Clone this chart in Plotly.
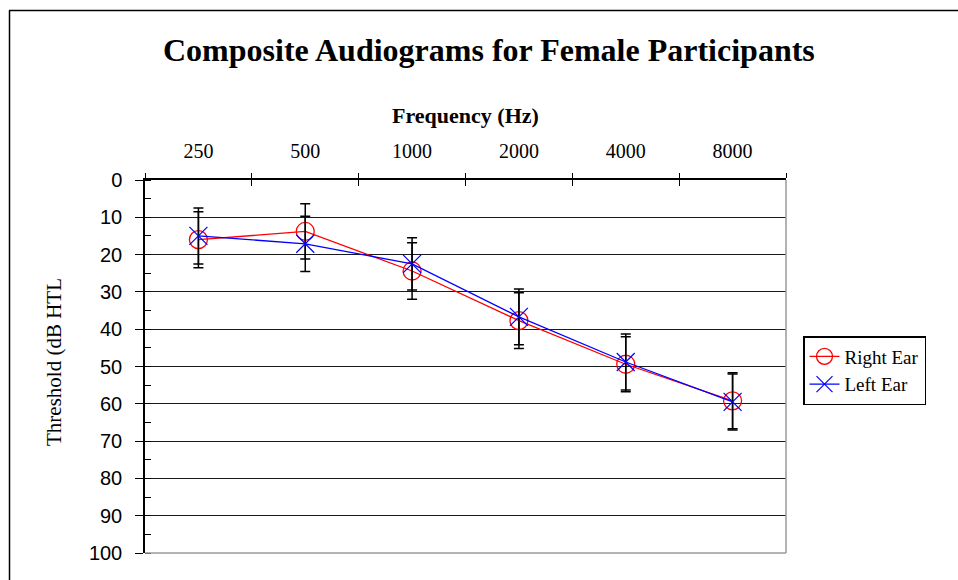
import plotly.graph_objects as go

# Audiogram data: mean hearing threshold (dB HTL) and spread per test frequency
frequencies = ["250", "500", "1000", "2000", "4000", "8000"]
right_ear = [16.0, 13.8, 24.4, 37.7, 49.4, 59.2]
right_err = [7.5, 7.4, 7.6, 7.5, 7.4, 7.5]
left_ear = [15.0, 17.1, 22.5, 36.7, 48.8, 59.5]
left_err = [7.5, 7.4, 7.0, 7.5, 7.5, 7.5]
y_ticks = list(range(0, 101, 10))

W, H = 958, 580
L, R, T, B = 145, 172, 180, 27
PW, PH = W - L - R, H - T - B


def px(x):
    return (x - L) / PW


def py(y):
    return (H - B - y) / PH


SERIF = "Liberation Serif, Times New Roman, serif"
SANS = "Liberation Sans, Arial, sans-serif"

fig = go.Figure()

fig.add_trace(go.Scatter(
    x=frequencies, y=right_ear, name="Right Ear", mode="lines+markers",
    line=dict(color="#ff0000", width=1.3),
    marker=dict(symbol="circle-open", size=18, color="#ff0000",
                line=dict(width=1.3, color="#ff0000")),
    error_y=dict(type="data", array=right_err, visible=True,
                 color="#000000", thickness=1.5, width=5),
))
fig.add_trace(go.Scatter(
    x=frequencies, y=left_ear, name="Left Ear", mode="lines+markers",
    line=dict(color="#0000ff", width=1.3),
    marker=dict(symbol="x-thin-open", size=18, color="#0000ff",
                line=dict(width=1.2, color="#0000ff")),
    error_y=dict(type="data", array=left_err, visible=True,
                 color="#000000", thickness=1.5, width=5),
))

fig.update_layout(
    width=W, height=H,
    margin=dict(l=L, r=R, t=T, b=B, autoexpand=False),
    paper_bgcolor="white", plot_bgcolor="white",
    showlegend=True,
    legend=dict(
        x=px(803), y=py(336), xanchor="left", yanchor="top",
        bordercolor="#000000", borderwidth=1.5, bgcolor="white",
        font=dict(family=SERIF, size=19, color="#000000"),
        tracegroupgap=0, itemwidth=30,
    ),
    xaxis=dict(
        type="category", side="top", range=[-0.5, 5.5],
        categoryorder="array", categoryarray=frequencies,
        tickson="boundaries", ticks="outside", ticklen=5, tickwidth=1.3,
        tickcolor="#000000", ticklabelstandoff=12,
        showline=True, linecolor="#000000", linewidth=1.5,
        showgrid=False, zeroline=False,
        tickfont=dict(family=SERIF, size=20, color="#000000"),
    ),
    xaxis2=dict(
        overlaying="x", side="top", range=[-0.5, 5.5],
        tickmode="array", tickvals=[i - 0.5 for i in range(len(frequencies) + 1)],
        ticks="inside", ticklen=6, tickwidth=1.3, tickcolor="#000000",
        showticklabels=False, showgrid=False, zeroline=False, showline=False,
    ),
    yaxis=dict(
        range=[100, 0], tickmode="array", tickvals=y_ticks,
        ticks="outside", ticklen=8, tickwidth=1.3, tickcolor="#000000",
        ticklabelstandoff=9,
        minor=dict(dtick=5, ticks="inside", ticklen=6, tickwidth=1.2,
                   tickcolor="#000000", showgrid=False),
        showgrid=True, gridcolor="#1a1a1a", gridwidth=1.2,
        showline=True, linecolor="#000000", linewidth=1.5,
        zeroline=False,
        tickfont=dict(family=SANS, size=20, color="#000000"),
    ),
)

# invisible trace so the boundary-tick axis is drawn
fig.add_trace(go.Scatter(x=[-0.5, 5.5], y=[0, 0], xaxis="x2", mode="markers",
                         marker=dict(opacity=0), showlegend=False,
                         hoverinfo="skip"))

shapes = [
    # plot-area border on the bottom and right (grey)
    dict(type="line", xref="paper", yref="paper", x0=0, x1=1, y0=0, y1=0,
         line=dict(color="#9a9a9a", width=1.5), layer="above"),
    dict(type="line", xref="paper", yref="paper", x0=1, x1=1, y0=0, y1=1,
         line=dict(color="#9a9a9a", width=1.5), layer="above"),
    # chart frame
    dict(type="line", xref="paper", yref="paper", x0=px(9), x1=px(W + 5),
         y0=py(10.5), y1=py(10.5), line=dict(color="#000000", width=1.5)),
    dict(type="line", xref="paper", yref="paper", x0=px(9.5), x1=px(9.5),
         y0=py(10.5), y1=py(H + 5), line=dict(color="#000000", width=1.5)),
]
fig.update_layout(shapes=shapes)

fig.add_annotation(
    text="<b>Composite Audiograms for Female Participants</b>",
    xref="paper", yref="paper", x=px(489), y=py(50),
    xanchor="center", yanchor="middle", showarrow=False,
    font=dict(family=SERIF, size=32, color="#000000"),
)
fig.add_annotation(
    text="<b>Frequency (Hz)</b>",
    xref="paper", yref="paper", x=px(465), y=py(115),
    xanchor="center", yanchor="middle", showarrow=False,
    font=dict(family=SERIF, size=22, color="#000000"),
)
fig.add_annotation(
    text="Threshold (dB HTL",
    xref="paper", yref="paper", x=px(54), y=py(362),
    xanchor="center", yanchor="middle", showarrow=False, textangle=-90,
    font=dict(family=SERIF, size=21, color="#000000"),
)

fig.write_html("out.html")
